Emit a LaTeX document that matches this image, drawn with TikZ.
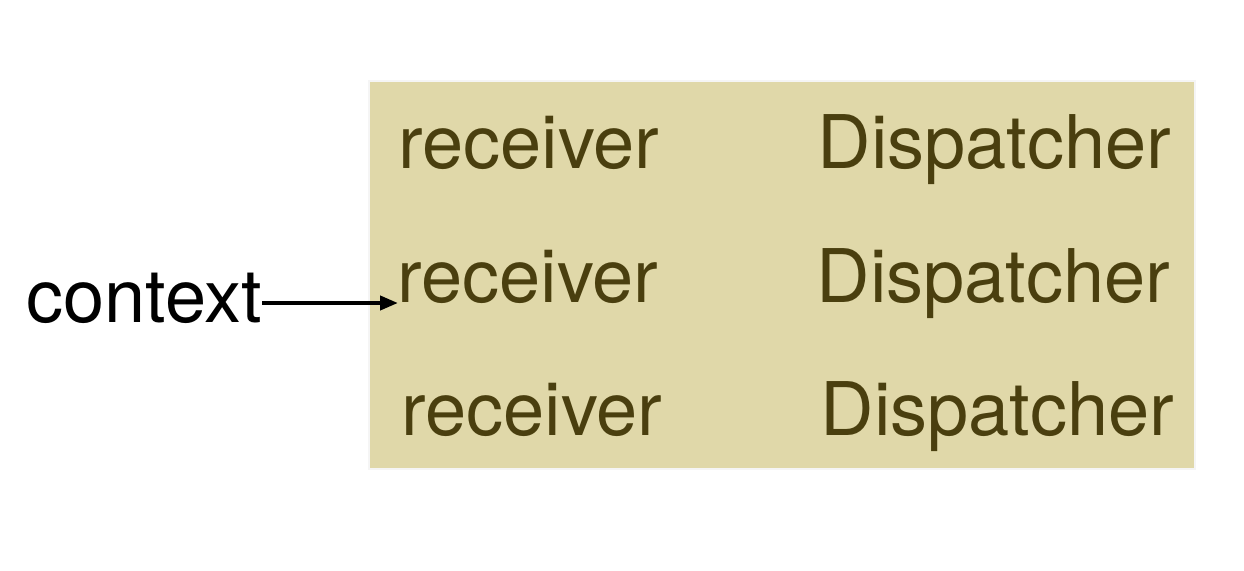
\documentclass[tikz,border=0pt]{standalone}
\usepackage{fontspec}
\setmainfont{TeX Gyre Heros}
\usepackage{tikz}
\usetikzlibrary{arrows.meta}
\definecolor{boxfill}{HTML}{E0D8A9}
\definecolor{boxtext}{HTML}{4A3F0F}

\begin{document}
\begin{tikzpicture}[x=1pt, y=1pt,
        every node/.append style={inner sep=0pt, anchor=base west},
        arrow/.style={-{Triangle[length=9pt,width=7pt]}, line width=2pt}]
      \tikzstyle{word} = [font=\fontsize{37}{40}\selectfont, color=boxtext]
      \useasboundingbox (0,0) rectangle (622,285);
      % shaded box
      \fill[black!4] (184,50) rectangle (598,245);
      \fill[boxfill] (185,51) rectangle (597,244);
      \node (ctx) [font=\fontsize{37}{40}\selectfont] at (13,124) {context};
      \node (recvA) [word] at (199,201) {receiver};
      \node (recvB) [word] at (198.5,134) {receiver};
      \node (recvC) [word] at (200.5,67.5) {receiver};
      \node (dispA) [word] at (408.7,201) {Dispatcher};
      \node (dispB) [word] at (408.2,134) {Dispatcher};
      \node (dispC) [word] at (410.2,67.5) {Dispatcher};
      \draw[arrow] ([yshift=9.5pt]ctx.base east) -- ([xshift=0.5pt,yshift=-0.5pt]recvB.base west);
    \end{tikzpicture}
\end{document}
